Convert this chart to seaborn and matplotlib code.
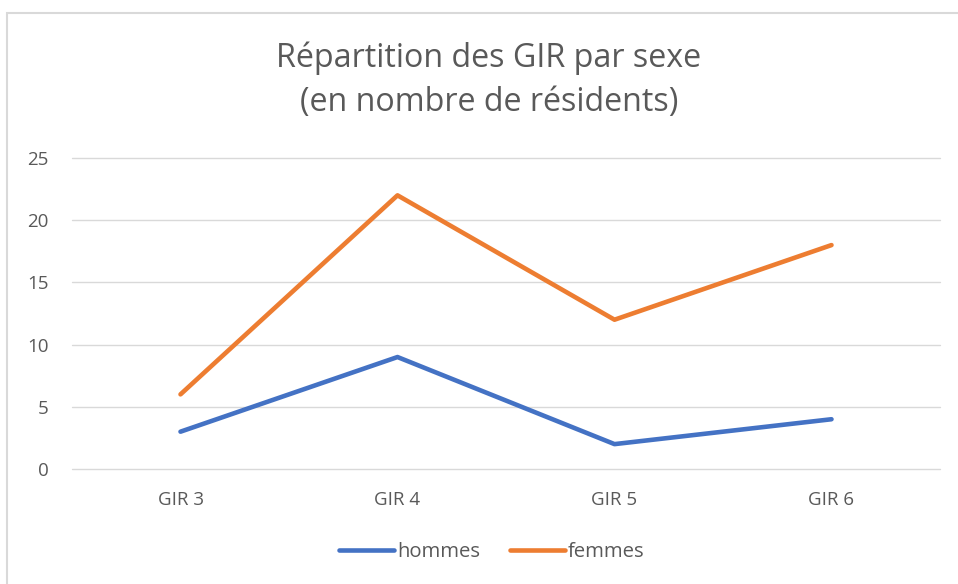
import matplotlib
matplotlib.use("Agg")
import matplotlib.pyplot as plt
import seaborn as sns
import pandas as pd
from matplotlib.patches import Rectangle
from matplotlib.lines import Line2D

categories = ["GIR 3", "GIR 4", "GIR 5", "GIR 6"]
hommes = [3, 9, 2, 4]
femmes = [6, 22, 12, 18]
series_names = ["hommes", "femmes"]
colors = ["#4472C4", "#ED7D31"]
yticks = [0, 5, 10, 15, 20, 25]

sns.set_theme(style="white")
plt.rcParams['font.family'] = ['Open Sans', 'DejaVu Sans']

df = pd.DataFrame({
    "cat": categories * 2,
    "x": list(range(len(categories))) * 2,
    "val": hommes + femmes,
    "serie": [series_names[0]] * 4 + [series_names[1]] * 4,
})

W, H = 958, 584
fig = plt.figure(figsize=(W / 100, H / 100), dpi=100)
ax = fig.add_axes([72 / W, 1 - 469 / H, (940 - 72) / W, (469 - 158) / H])

sns.lineplot(data=df, x="x", y="val", hue="serie", palette=colors, ax=ax,
             linewidth=3.3, legend=False, solid_capstyle="round", solid_joinstyle="round")

ax.set_xlim(-0.5, len(categories) - 0.5)
ax.set_ylim(0, 25)
ax.set_yticks(yticks)
ax.set_xticks(range(len(categories)))
ax.set_xticklabels(categories)
ax.set_xlabel("")
ax.set_ylabel("")
for y in yticks:
    ax.axhline(y, color="#D9D9D9", linewidth=1, zorder=0, clip_on=False)
for s in ax.spines.values():
    s.set_visible(False)
ax.tick_params(axis="both", length=0, labelsize=13.5, colors="#595959")
ax.tick_params(axis="y", pad=17)
ax.tick_params(axis="x", pad=16)

fig.text(489 / W, 1 - 58 / H, "Répartition des GIR par sexe", ha="center", va="center",
         fontsize=23.2, color="#595959")
fig.text(489 / W, 1 - 102 / H, "(en nombre de résidents)", ha="center", va="center",
         fontsize=23.2, color="#595959")

handles = [Line2D([0], [0], color=c, linewidth=3.3, solid_capstyle="round") for c in colors]
fig.legend(handles, series_names, loc="center", bbox_to_anchor=(492 / W, 1 - 552 / H),
           ncol=2, frameon=False, fontsize=14.6, handlelength=2.7, handletextpad=0.15,
           columnspacing=1.5, labelcolor="#595959")

fig.patches.append(Rectangle((7 / W, -0.05), 1.1, 1 - 13 / H + 0.05, transform=fig.transFigure,
                             fill=False, edgecolor="#D9D9D9", linewidth=1.5))

fig.savefig("out.png", dpi=100)
